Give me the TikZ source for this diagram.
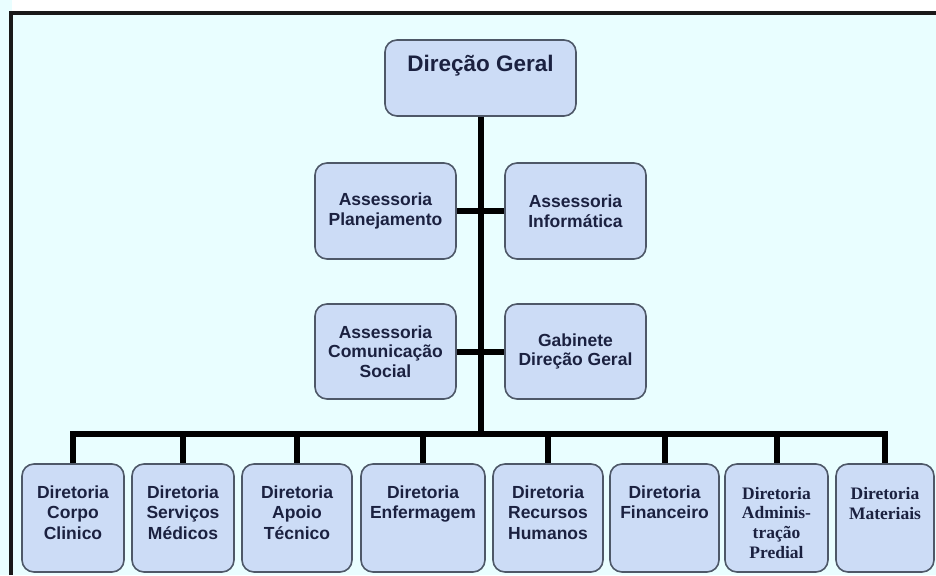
\documentclass[tikz,border=0pt]{standalone}
\usepackage{fontspec}
\setmainfont{Liberation Sans}
\newfontfamily\timesfam{Liberation Serif}
\usetikzlibrary{calc}

\definecolor{pagebg}{HTML}{E9FEFF}
\definecolor{boxfill}{HTML}{CCDCF6}
\definecolor{boxline}{HTML}{4E5868}
\definecolor{ink}{HTML}{1B2140}

\begin{document}
\begin{tikzpicture}[x=1pt,y=-1pt,
  unit/.style={draw=boxline, fill=boxfill, rounded corners=12pt,
    line width=1.6pt, inner sep=0pt, align=center, text=ink,
    font=\bfseries\fontsize{17.5}{19.5}\selectfont},
  lbl/.style={inner sep=0pt, align=center, text=ink, anchor=north,
    font=\bfseries\fontsize{17.5}{20.5}\selectfont},
  tlbl/.style={inner sep=0pt, align=center, text=ink, anchor=north,
    font=\timesfam\bfseries\fontsize{17.5}{19.8}\selectfont},
  link/.style={line width=6pt, black}]

% page background and frame
\useasboundingbox (0,0) rectangle (936,575);
\fill[pagebg] (0,0) rectangle (936,575);
\fill[white] (12,0) rectangle (936,11);
\draw[line width=4pt, black!90] (10.5,575) -- (10.5,13) -- (936,13);

% boxes given by corner positions
\newcommand\orgbox[6]{%
  \node[unit, minimum width=#4-#2, minimum height=#5-#3]
    (#1) at ({(#2+#4)/2},{(#3+#5)/2}) {#6};}

\orgbox{DG}{385}{40}{576}{116}{}
\node[inner sep=0pt, text=ink, anchor=base,
  font=\bfseries\fontsize{22.5}{26}\selectfont] (tDG)
  at ($(DG.north)+(0,32)$) {Direção Geral};

\orgbox{AP}{315}{163}{456}{259}{Assessoria\\Planejamento}
\orgbox{AI}{505}{163}{646}{259}{Assessoria\\Informática}
\orgbox{AC}{315}{304}{456}{399}{Assessoria\\Comunicação\\Social}
\orgbox{GB}{505}{304}{646}{399}{Gabinete\\Direção Geral}

\orgbox{B1}{22}{464}{124}{572}{}
\orgbox{B2}{132}{464}{234}{572}{}
\orgbox{B3}{242}{464}{352}{572}{}
\orgbox{B4}{361}{464}{485}{572}{}
\orgbox{B5}{493}{464}{603}{572}{}
\orgbox{B6}{610}{464}{719}{572}{}
\orgbox{B7}{725}{464}{828}{572}{}
\orgbox{B8}{836}{464}{934}{572}{}

\node[lbl]  (t1) at ($(B1.north)+(0,22)$) {Diretoria\\Corpo\\Clinico};
\node[lbl]  (t2) at ($(B2.north)+(0,22)$) {Diretoria\\Serviços\\Médicos};
\node[lbl]  (t3) at ($(B3.north)+(0,22)$) {Diretoria\\Apoio\\Técnico};
\node[lbl]  (t4) at ($(B4.north)+(0,22)$) {Diretoria\\Enfermagem};
\node[lbl]  (t5) at ($(B5.north)+(0,22)$) {Diretoria\\Recursos\\Humanos};
\node[lbl]  (t6) at ($(B6.north)+(0,22)$) {Diretoria\\Financeiro};
\node[tlbl] (t7) at ($(B7.north)+(0,23.5)$) {Diretoria\\Adminis-\\tração\\Predial};
\node[tlbl] (t8) at ($(B8.north)+(0,24)$) {Diretoria\\Materiais};

% connectors
\coordinate (hub) at (DG.south |- 0,434);
\draw[link] (DG.south) -- (hub);
\draw[link] (AP.east) -- (AI.west);
\draw[link] (AC.east) -- (GB.west);
\foreach \b in {B1,B2,B3,B4,B5,B6,B7,B8}
  \draw[link] (hub) -| (\b.north);
\end{tikzpicture}
\end{document}
